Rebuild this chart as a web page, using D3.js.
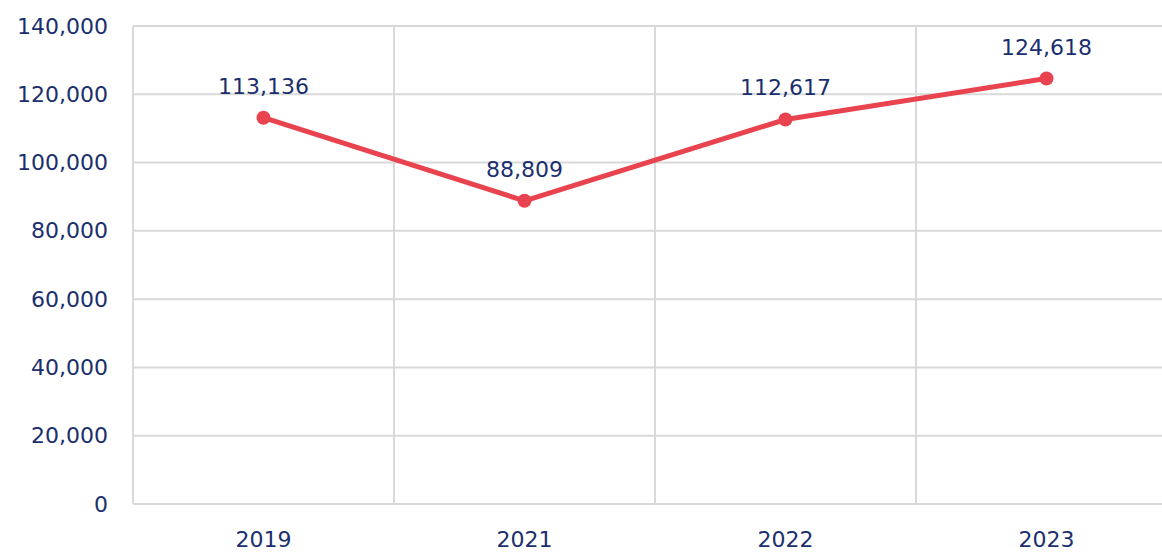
<!DOCTYPE html>
<html>
<head>
<meta charset="utf-8">
<script src="https://cdn.jsdelivr.net/npm/d3@7"></script>
<style>
  html, body { margin: 0; padding: 0; background: #fff; overflow: hidden; }
  svg text { font-family: "DejaVu Sans", "Noto Sans", sans-serif; fill: #1b2f6e; }
</style>
</head>
<body>
<script>
// chart data
var years = ["2019", "2021", "2022", "2023"];
var values = [113136, 88809, 112617, 124618];
var yTicks = [0, 20000, 40000, 60000, 80000, 100000, 120000, 140000];

var chartW = 1162, chartH = 552;
var plotLeft = 133, plotTop = 26, plotBottom = 504;

var svg = d3.select("body").append("svg")
            .attr("width", chartW)
            .attr("height", chartH);

var x = d3.scaleBand()
          .domain(years)
          .range([plotLeft, plotLeft + 4 * 261])
          .padding(0);

var y = d3.scaleLinear()
          .domain([0, 140000])
          .range([plotBottom, plotTop]);

var fmt = d3.format(",");

// horizontal grid
svg.append("g")
   .selectAll("line")
   .data(yTicks)
   .enter().append("line")
   .attr("x1", plotLeft)
   .attr("x2", chartW)
   .attr("y1", function(d){ return y(d); })
   .attr("y2", function(d){ return y(d); })
   .attr("stroke", "#d9d9d9")
   .attr("stroke-width", 2);

// vertical grid at band edges
svg.append("g")
   .selectAll("line")
   .data(years)
   .enter().append("line")
   .attr("x1", function(d){ return x(d); })
   .attr("x2", function(d){ return x(d); })
   .attr("y1", plotTop)
   .attr("y2", plotBottom)
   .attr("stroke", "#d9d9d9")
   .attr("stroke-width", 2);

// y axis labels
var yAxis = d3.axisLeft(y).tickValues(yTicks).tickFormat(fmt).tickSize(0).tickPadding(25);
var gy = svg.append("g").attr("transform", "translate(" + plotLeft + ",0)").call(yAxis);
gy.select(".domain").remove();
gy.selectAll("text").style("font-size", "22px").attr("fill", "#1b2f6e");

// x axis labels
var xAxis = d3.axisBottom(x).tickSize(0).tickPadding(27);
var gx = svg.append("g").attr("transform", "translate(0," + plotBottom + ")").call(xAxis);
gx.select(".domain").remove();
gx.selectAll("text").style("font-size", "22px").attr("fill", "#1b2f6e");
svg.selectAll("g").attr("font-family", null);

var cx = function(d, i){ return x(years[i]) + x.bandwidth() / 2; };

// line
var line = d3.line()
             .x(function(d, i){ return cx(d, i); })
             .y(function(d){ return y(d); });

svg.append("path")
   .datum(values)
   .attr("d", line)
   .attr("fill", "none")
   .attr("stroke", "#e8434f")
   .attr("stroke-width", 5)
   .attr("stroke-linejoin", "round");

svg.selectAll(".dot")
   .data(values)
   .enter().append("circle")
   .attr("class", "dot")
   .attr("cx", cx)
   .attr("cy", function(d){ return y(d); })
   .attr("r", 7)
   .attr("fill", "#e8434f");

// data labels
svg.selectAll(".val")
   .data(values)
   .enter().append("text")
   .attr("class", "val")
   .attr("x", cx)
   .attr("y", function(d){ return y(d) - 24; })
   .attr("text-anchor", "middle")
   .style("font-size", "22px")
   .text(function(d){ return fmt(d); });
</script>
</body>
</html>
